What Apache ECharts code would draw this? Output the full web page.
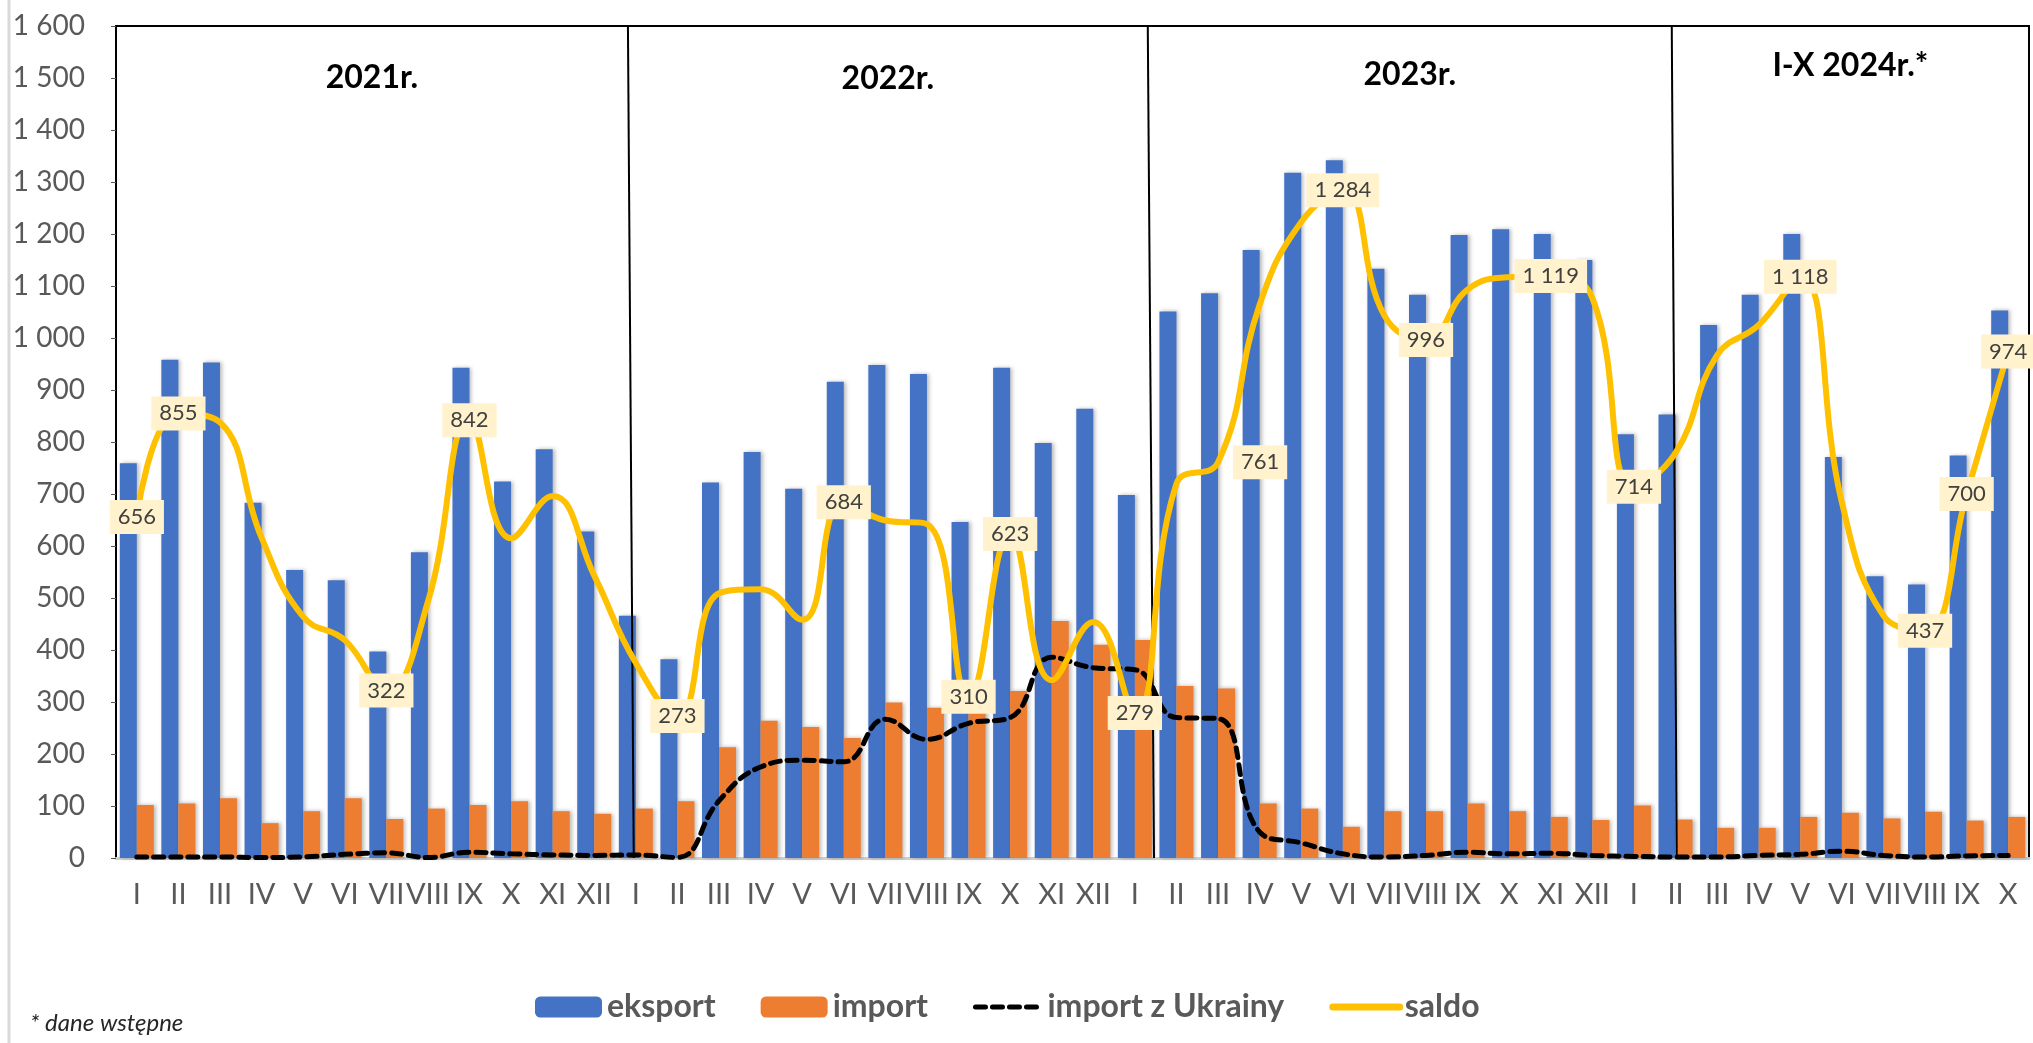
<!DOCTYPE html>
<html>
<head>
<meta charset="utf-8">
<title>eksport / import</title>
<script src="https://cdn.jsdelivr.net/npm/echarts@6/dist/echarts.min.js"></script>
<style>
  html, body { margin: 0; padding: 0; background: #fff; }
  #chart { width: 2033px; height: 1043px; }
</style>
</head>
<body>
<div id="chart"></div>
<script>
// miesiące
const monthNames = ['I', 'II', 'III', 'IV', 'V', 'VI', 'VII', 'VIII', 'IX', 'X', 'XI', 'XII']
const categories = monthNames.concat(monthNames, monthNames, monthNames.slice(0, 10))

const eksport = [
  759, 958, 953, 683, 554, 534, 397, 588, 943, 724, 786, 628,
  466, 382, 722, 781, 710, 916, 948, 931, 646, 943, 798, 864,
  698, 1051, 1086, 1169, 1318, 1342, 1133, 1083, 1198, 1209, 1200, 1150,
  815, 853, 1025, 1083, 1200, 771, 542, 526, 774, 1053
]
const importTotal = [
  102, 105, 115, 67, 90, 115, 75, 95, 102, 109, 90, 85,
  95, 109, 213, 264, 252, 231, 299, 289, 336, 321, 456, 410,
  419, 331, 326, 105, 95, 60, 90, 90, 105, 90, 79, 73,
  101, 74, 58, 58, 79, 87, 76, 89, 72, 79
]
const importUkraina = [
  2, 2, 2, 1, 2, 7, 10, 1, 11, 8, 6, 5,
  6, 1, 110, 175, 188, 185, 267, 228, 259, 270, 386, 366,
  362, 270, 268, 50, 29, 8, 2, 5, 11, 8, 9, 5,
  3, 2, 2, 5, 7, 13, 5, 2, 4, 5
]
const saldo = [
  656, 855, 838, 616, 464, 419, 322, 493, 842, 615, 696, 543,
  375, 273, 509, 517, 458, 684, 649, 642, 310, 623, 342, 454,
  279, 720, 761, 1064, 1223, 1284, 1043, 996, 1093, 1117, 1119, 1077,
  714, 779, 967, 1025, 1118, 684, 466, 437, 700, 974
]
// punkty salda z etykietą
const saldoLabelIndex = [0, 1, 6, 8, 13, 17, 20, 21, 24, 26, 29, 31, 34, 36, 40, 43, 44, 45]
const yearNames = ['2021r.', '2022r.', '2023r.', 'I-X 2024r.*']
const yTicks = { min: 0, max: 1600, interval: 100 }

const FONT = 'Lato, "Open Sans", sans-serif'

function fmtNum(v) {
  if (v >= 1000) return Math.floor(v / 1000) + ' ' + String(v % 1000).padStart(3, '0')
  return String(v)
}

// linie podziału lat (w jednostkach kategorii, góra / dół)
const breaks = [[12.31, 12.45], [24.81, 24.96], [37.41, 37.53]]
const yearLabelDist = [36, 37, 33, 24]

const saldoData = saldo.map((v, i) => {
  if (saldoLabelIndex.indexOf(i) < 0) return v
  return {
    value: v,
    symbol: 'circle',
    symbolSize: 1,
    label: { show: true, offset: i === 26 ? [42, 0] : [0, 0] }
  }
})

const areaEdges = [0].concat(breaks.map(b => b[0]), [46])
const yearAreas = yearNames.map((name, i) => [
  { xAxis: areaEdges[i], name: name, label: { distance: yearLabelDist[i] } },
  { xAxis: areaEdges[i + 1] }
])
const breakLines = breaks.map(b => [
  { coord: [b[0], yTicks.max] },
  { coord: [b[1], 0] }
])

const chart = echarts.init(document.getElementById('chart'))
const barShadow = {
  shadowColor: 'rgba(0,0,0,0.28)',
  shadowBlur: 4,
  shadowOffsetX: 2
}

chart.setOption({
  animation: false,
  textStyle: { fontFamily: FONT },
  grid: {
    left: 116,
    right: 4,
    top: 26,
    bottom: 185,
    show: true,
    borderColor: '#000',
    borderWidth: 2
  },
  legend: {
    left: 530,
    top: 986,
    itemWidth: 67,
    itemHeight: 21,
    itemGap: 45,
    textStyle: { fontFamily: FONT, fontSize: 32, fontWeight: 'bold', color: '#595959' },
    data: [
      'eksport',
      'import',
      {
        name: 'import z Ukrainy',
        itemStyle: { opacity: 0 },
        lineStyle: { width: 5, type: [10, 7], cap: 'round' }
      },
      {
        name: 'saldo',
        itemStyle: { opacity: 0 },
        lineStyle: { width: 7, cap: 'round' }
      }
    ]
  },
  xAxis: [
    {
      type: 'category',
      data: categories,
      axisTick: { show: false },
      axisLine: { lineStyle: { color: '#D0D0D0', width: 3 } },
      axisLabel: {
        interval: 0,
        margin: 22,
        fontFamily: FONT,
        fontSize: 29,
        color: '#595959'
      }
    },
    {
      type: 'value',
      min: 0,
      max: 46,
      show: false
    }
  ],
  yAxis: {
    type: 'value',
    min: yTicks.min,
    max: yTicks.max,
    interval: yTicks.interval,
    splitLine: { show: false },
    axisLine: { show: false },
    axisLabel: {
      margin: 31,
      fontFamily: FONT,
      fontSize: 28,
      color: '#595959',
      formatter: fmtNum
    }
  },
  series: [
    {
      name: 'eksport',
      type: 'bar',
      data: eksport,
      barWidth: 17,
      barGap: '0%',
      itemStyle: Object.assign({ color: '#4472C4' }, barShadow),
      z: 2
    },
    {
      name: 'import',
      type: 'bar',
      data: importTotal,
      barWidth: 17,
      barGap: '0%',
      itemStyle: Object.assign({ color: '#ED7D31' }, barShadow),
      z: 2
    },
    {
      name: 'import z Ukrainy',
      type: 'line',
      data: importUkraina,
      smooth: 0.45,
      symbol: 'none',
      lineStyle: { color: '#000', width: 5, type: [10, 7], cap: 'round' },
      itemStyle: { color: '#000' },
      z: 4
    },
    {
      name: 'saldo',
      type: 'line',
      data: saldoData,
      smooth: 0.45,
      symbol: 'none',
      showAllSymbol: true,
      lineStyle: { color: '#FFC000', width: 6 },
      itemStyle: { color: '#FFC000' },
      label: {
        position: 'inside',
        formatter: p => fmtNum(p.value),
        fontFamily: FONT,
        fontSize: 22,
        color: '#404040',
        backgroundColor: '#FFF2CC',
        padding: [7, 8, 5, 8]
      },
      z: 5
    },
    {
      name: 'lata',
      type: 'line',
      xAxisIndex: 1,
      data: [],
      silent: true,
      markLine: {
        silent: true,
        symbol: 'none',
        label: { show: false },
        lineStyle: { color: '#000', width: 2, type: 'solid' },
        data: breakLines
      },
      markArea: {
        silent: true,
        itemStyle: { color: 'rgba(0,0,0,0)' },
        label: {
          position: 'insideTop',
          fontFamily: FONT,
          fontSize: 32,
          fontWeight: 'bold',
          color: '#000'
        },
        data: yearAreas
      },
      z: 3
    }
  ],
  graphic: [
    {
      type: 'line',
      shape: { x1: 9, y1: 0, x2: 9, y2: 1043 },
      style: { stroke: '#D9D9D9', lineWidth: 3 }
    },
    {
      type: 'text',
      left: 30,
      top: 1011,
      style: {
        text: '* dane wstępne',
        font: 'italic 24px ' + FONT,
        fill: '#262626'
      }
    }
  ]
})
</script>
</body>
</html>
